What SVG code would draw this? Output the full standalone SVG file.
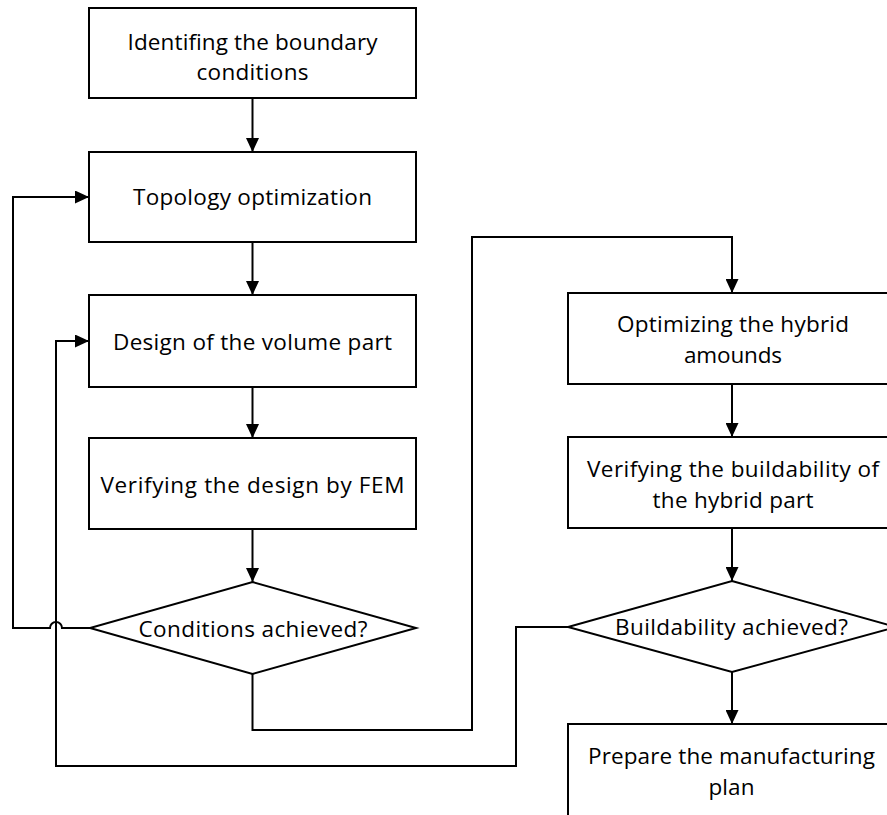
<svg xmlns="http://www.w3.org/2000/svg" width="887" height="815" viewBox="0 0 887 815">
<style>
.n{fill:#fff;stroke:#000;stroke-width:2}
.t{font-family:"Open Sans","Noto Sans","Liberation Sans",sans-serif;font-size:22.5px;fill:#000;text-anchor:middle}
.c{fill:none;stroke:#000;stroke-width:2}
</style>
<defs>
<marker id="ah" markerWidth="14" markerHeight="13" refX="14" refY="6.5" orient="auto" markerUnits="userSpaceOnUse">
<path d="M0,0 L14,6.5 L0,13 Z" fill="#000"/>
</marker>
</defs>
<rect width="887" height="815" fill="#fff"/>
<g id="connectors">
<path class="c" d="M252.5,98 V152" marker-end="url(#ah)"/>
<path class="c" d="M252.5,242 V295" marker-end="url(#ah)"/>
<path class="c" d="M252.5,387 V438" marker-end="url(#ah)"/>
<path class="c" d="M252.5,529 V582" marker-end="url(#ah)"/>
<path class="c" d="M90,628 H62 A6,6 0 0 0 50,628 H13 V197 H89" marker-end="url(#ah)"/>
<path class="c" d="M252.5,674 V730 H472 V237 H732 V293" marker-end="url(#ah)"/>
<path class="c" d="M732,384 V437" marker-end="url(#ah)"/>
<path class="c" d="M732,528 V581" marker-end="url(#ah)"/>
<path class="c" d="M732,672 V724" marker-end="url(#ah)"/>
<path class="c" d="M568,627 H516 V766 H56 V341 H89" marker-end="url(#ah)"/>
</g>
<g id="n1">
<rect class="n" x="89" y="8" width="327" height="90"/>
<text class="t" x="252.5" y="50" textLength="250" lengthAdjust="spacing">Identifing the boundary</text>
<text class="t" x="252.5" y="80" textLength="112" lengthAdjust="spacing">conditions</text>
</g>
<g id="n2">
<rect class="n" x="89" y="152" width="327" height="90"/>
<text class="t" x="252.5" y="205" textLength="239" lengthAdjust="spacing">Topology optimization</text>
</g>
<g id="n3">
<rect class="n" x="89" y="295" width="327" height="92"/>
<text class="t" x="252.5" y="350" textLength="279" lengthAdjust="spacing">Design of the volume part</text>
</g>
<g id="n4">
<rect class="n" x="89" y="438" width="327" height="91"/>
<text class="t" x="252.5" y="493" textLength="304" lengthAdjust="spacing">Verifying the design by FEM</text>
</g>
<g id="n5">
<polygon class="n" points="252.5,582 416,628 252.5,674 90,628"/>
<text class="t" x="253" y="637" textLength="229" lengthAdjust="spacing">Conditions achieved?</text>
</g>
<g id="n6">
<rect class="n" x="568" y="293" width="330" height="91"/>
<text class="t" x="733" y="332" textLength="232" lengthAdjust="spacing">Optimizing the hybrid</text>
<text class="t" x="733" y="363" textLength="98" lengthAdjust="spacing">amounds</text>
</g>
<g id="n7">
<rect class="n" x="568" y="437" width="330" height="91"/>
<text class="t" x="733" y="477" textLength="292" lengthAdjust="spacing">Verifying the buildability of</text>
<text class="t" x="733" y="508" textLength="161" lengthAdjust="spacing">the hybrid part</text>
</g>
<g id="n8">
<polygon class="n" points="732,581 896,627 732,672 568,627"/>
<text class="t" x="731.5" y="635" textLength="233" lengthAdjust="spacing">Buildability achieved?</text>
</g>
<g id="n9">
<rect class="n" x="568" y="724" width="330" height="100"/>
<text class="t" x="731.5" y="764" textLength="287" lengthAdjust="spacing">Prepare the manufacturing</text>
<text class="t" x="731.5" y="795" textLength="46" lengthAdjust="spacing">plan</text>
</g>
</svg>
